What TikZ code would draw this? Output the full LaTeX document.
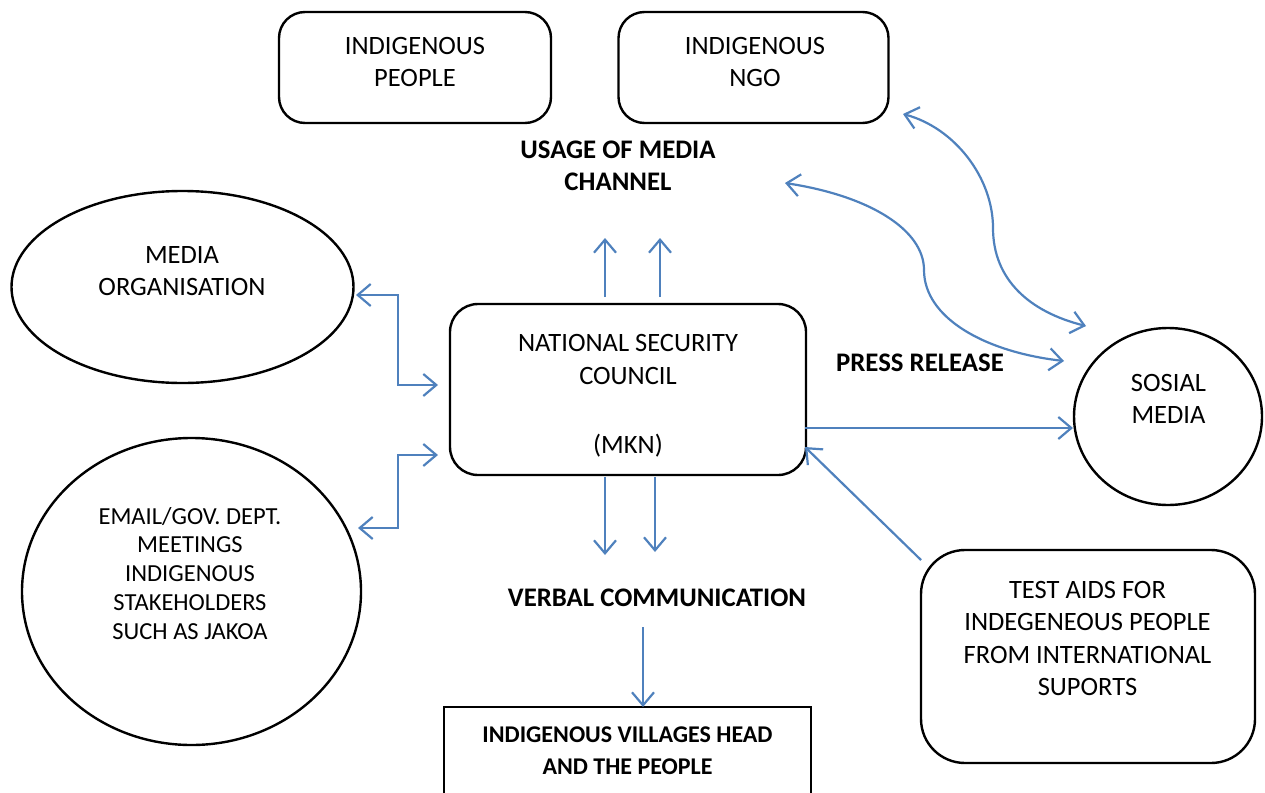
\documentclass[tikz,border=0pt]{standalone}
\usepackage{fontspec}
\setmainfont{Carlito}
\usetikzlibrary{shapes.geometric,arrows.meta}
\definecolor{myblue}{RGB}{79,129,189}
\tikzset{
  shapeline/.style={draw=black, line width=2.4pt, inner sep=0pt, outer sep=0pt},
  rbox/.style={shapeline, rectangle, rounded corners=#1},
  oval/.style={shapeline, ellipse},
  txt/.style={align=center, anchor=base, inner sep=0pt, font=\fontsize{26.5}{32.3}\selectfont},
  smalltxt/.style={align=center, anchor=base, inner sep=0pt, font=\fontsize{24.5}{28.75}\selectfont},
  boldtxt/.style={align=center, anchor=base, inner sep=0pt, font=\bfseries\fontsize{26.8}{32.5}\selectfont},
  boldsmall/.style={align=center, anchor=base, inner sep=0pt, font=\bfseries\fontsize{24}{32.5}\selectfont},
  arr/.style={draw=myblue, line width=2.2pt, -{Straight Barb[length=13pt,width=22pt,line width=2.2pt]}},
  darr/.style={draw=myblue, line width=2.2pt, {Straight Barb[length=13pt,width=22pt,line width=2.2pt]}-{Straight Barb[length=13pt,width=22pt,line width=2.2pt]}}
}
\begin{document}
\begin{tikzpicture}[x=1pt,y=-1pt]
\useasboundingbox (0,0) rectangle (1265,792);
\clip (0,0) rectangle (1265,792);

% shapes
\node[rbox=26pt, minimum width=272pt, minimum height=111pt] (people) at (415,67.5) {};
\node[rbox=26pt, minimum width=270pt, minimum height=111pt] (ngo) at (753.5,67.5) {};
\node[oval, minimum width=342pt, minimum height=192pt] (media) at (182.5,287) {};
\node[oval, minimum width=339pt, minimum height=307pt] (email) at (191.5,591.5) {};
\node[rbox=28pt, minimum width=356pt, minimum height=171pt] (nsc) at (628,389.5) {};
\node[oval, minimum width=188pt, minimum height=177pt] (social) at (1168,416.5) {};
\node[rbox=44pt, minimum width=334pt, minimum height=213pt] (aids) at (1088,656.5) {};
\node[shapeline, rectangle, minimum width=367pt, minimum height=130pt] (village) at (627.5,772) {};

% texts (anchor = baseline of the last line)
\node[txt] (tpeople) at (415,86.5) {INDIGENOUS\\PEOPLE};
\node[txt] (tngo) at (755,86.5) {INDIGENOUS\\NGO};
\node[boldtxt] (tusage) at (618,190.5) {USAGE OF MEDIA\\CHANNEL};
\node[txt] (tmedia) at (182,295.5) {MEDIA\\ORGANISATION};
\node[txt] (tnsc) at (628,453.5) {NATIONAL SECURITY\\COUNCIL\\[37pt](MKN)};
\node[smalltxt] (temail) at (190,639) {EMAIL/GOV. DEPT.\\MEETINGS\\INDIGENOUS\\STAKEHOLDERS\\SUCH AS JAKOA};
\node[txt] (tsocial) at (1168.5,423.5) {SOSIAL\\MEDIA};
\node[boldtxt] (tpress) at (920,371.5) {PRESS RELEASE};
\node[boldtxt] (tverbal) at (657,606.5) {VERBAL COMMUNICATION};
\node[boldsmall] (tvillage) at (627.5,774.5) {INDIGENOUS VILLAGES HEAD\\AND THE PEOPLE};
\node[txt] (taids) at (1087.5,695.5) {TEST AIDS FOR\\INDEGENEOUS PEOPLE\\FROM INTERNATIONAL\\SUPORTS};

% connector end points
\coordinate (up1s) at (605,297);  \coordinate (up1e) at (605,238);
\coordinate (up2s) at (660,297);  \coordinate (up2e) at (660,238);
\coordinate (dn1s) at (605,477);  \coordinate (dn1e) at (605,555);
\coordinate (dn2s) at (655,477);  \coordinate (dn2e) at (655,552);
\coordinate (vs) at (643,627);
\coordinate (mo1) at (356,295);   \coordinate (mo2) at (438,385);
\coordinate (em1) at (358,528);   \coordinate (em2) at (438,455);
\coordinate (c1a) at (785,183);   \coordinate (c1b) at (1064,361);
\coordinate (c2a) at (903,114);   \coordinate (c2b) at (1086,326);
\coordinate (aidsTip) at (805,447);
\coordinate (nscR) at (805,428);  \coordinate (socL) at (1073,428);
\coordinate (aidsS) at (921,560);

% connectors
\draw[arr] (up1s) -- (up1e);
\draw[arr] (up2s) -- (up2e);
\draw[arr] (dn1s) -- (dn1e);
\draw[arr] (dn2s) -- (dn2e);
\draw[arr] (vs) -- (village.north -| vs);
\draw[darr] (mo1) -- (398,295) -- (398,385) -- (mo2);
\draw[darr] (em1) -- (398,528) -- (398,455) -- (em2);
\draw[darr] (c1a) .. controls (870,196) and (924,230) .. (924,270) .. controls (924,318) and (985,352) .. (c1b);
\draw[darr] (c2a) .. controls (955,128) and (993,178) .. (993,228) .. controls (993,280) and (1030,312) .. (c2b);
\draw[arr] (nscR) -- (socL);
\draw[arr] (aidsS) -- (aidsTip);
\end{tikzpicture}
\end{document}
